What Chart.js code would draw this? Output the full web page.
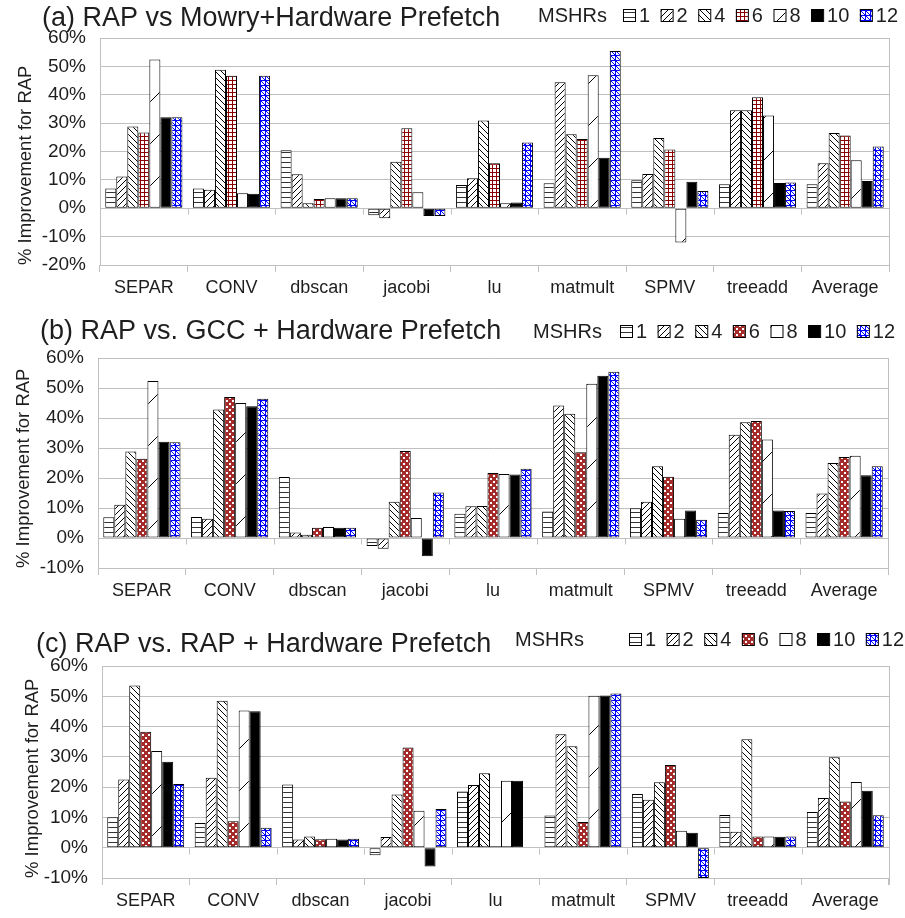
<!DOCTYPE html>
<html>
<head>
<meta charset="utf-8">
<script src="https://cdn.jsdelivr.net/npm/chart.js@4.4.1/dist/chart.umd.min.js"></script>
<style>
  body { margin: 0; background: #fff; }
  .box { position: relative; width: 905px; }
</style>
</head>
<body>
<div class="box" style="height:300px"><canvas id="chartA"></canvas></div>
<div class="box" style="height:310px"><canvas id="chartB"></canvas></div>
<div class="box" style="height:308px"><canvas id="chartC"></canvas></div>
<script>
const benchmarks = ['SEPAR', 'CONV', 'dbscan', 'jacobi', 'lu', 'matmult', 'SPMV', 'treeadd', 'Average'];
const mshrs = ['1', '2', '4', '6', '8', '10', '12'];

// (a) RAP vs Mowry + hardware prefetch, one array per MSHR count
const mowry1  = [7.0, 7.0, 20.4, -2.5, 8.2, 8.8, 9.9, 8.5, 8.5];
const mowry2  = [11.2, 6.5, 12.0, -3.5, 10.6, 44.4, 12.1, 34.5, 15.9];
const mowry4  = [28.8, 48.8, 1.8, 16.4, 30.9, 26.1, 24.8, 34.5, 26.5];
const mowry6  = [26.7, 46.7, 3.3, 28.2, 15.9, 24.4, 20.7, 39.1, 25.6];
const mowry8  = [52.4, 5.3, 3.5, 5.6, 1.8, 46.9, -12.1, 32.7, 16.9];
const mowry10 = [32.1, 5.1, 3.5, -2.7, 2.0, 17.8, 9.3, 8.9, 9.6];
const mowry12 = [32.1, 46.7, 3.5, -2.7, 23.2, 55.4, 6.1, 9.1, 21.8];

// (b) RAP vs GCC + hardware prefetch
const gcc1  = [6.9, 7.0, 20.3, -2.7, 8.1, 8.8, 9.9, 8.3, 8.3];
const gcc2  = [11.1, 6.4, 1.8, -3.6, 10.6, 44.2, 12.1, 34.4, 14.8];
const gcc4  = [28.8, 42.8, 1.1, 12.1, 10.7, 41.4, 23.9, 38.6, 25.0];
const gcc6  = [26.4, 47.0, 3.4, 29.0, 21.7, 28.6, 20.4, 39.0, 27.0];
const gcc8  = [52.3, 45.0, 3.7, 6.7, 21.3, 51.4, 6.4, 32.8, 27.4];
const gcc10 = [32.1, 43.9, 3.4, -6.1, 21.2, 54.1, 9.2, 9.2, 20.9];
const gcc12 = [31.9, 46.4, 3.4, 15.2, 23.1, 55.4, 6.1, 9.0, 23.9];

// (c) RAP vs RAP + hardware prefetch
const rapHw1  = [10.1, 8.2, 20.9, -2.5, 18.6, 10.6, 17.7, 10.8, 11.8];
const rapHw2  = [22.5, 23.1, 2.7, 3.5, 20.7, 37.5, 15.8, 5.3, 16.4];
const rapHw4  = [53.6, 48.5, 3.7, 17.6, 24.6, 33.5, 21.6, 35.8, 29.9];
const rapHw6  = [38.3, 8.7, 2.8, 33.1, 0.5, 8.5, 27.3, 3.7, 15.3];
const rapHw8  = [31.9, 45.3, 3.0, 12.2, 22.1, 50.2, 5.6, 3.7, 21.7];
const rapHw10 = [28.4, 45.1, 2.7, -6.2, 22.1, 50.3, 4.9, 3.6, 18.8];
const rapHw12 = [21.0, 6.6, 3.0, 12.8, -0.2, 50.9, -10.0, 3.7, 10.7];

const TEXT = '#1e1e1e';
const GRID = '#c0c0c0';
Chart.defaults.font.family = '"Liberation Sans", Arial, sans-serif';
Chart.defaults.color = TEXT;

// hatch fills, made on small tiles
function tile(w, h, draw) {
    const c = document.createElement('canvas');
    c.width = w; c.height = h;
    const g = c.getContext('2d');
    g.fillStyle = '#fff';
    g.fillRect(0, 0, w, h);
    draw(g);
    return g.createPattern(c, 'repeat');
}
const hLines = tile(5, 5, g => { g.fillStyle = '#333'; g.fillRect(0, 2, 5, 1); });
const slash = tile(6, 6, g => {
    g.strokeStyle = '#000'; g.lineWidth = 1;
    g.beginPath(); g.moveTo(-1, 7); g.lineTo(7, -1); g.stroke();
});
const backslash = tile(6, 6, g => {
    g.strokeStyle = '#000'; g.lineWidth = 1;
    g.beginPath(); g.moveTo(-1, -1); g.lineTo(7, 7); g.stroke();
});
const redGrid = tile(4, 4, g => {
    g.fillStyle = '#8b0000';
    g.fillRect(0, 0, 4, 1); g.fillRect(0, 0, 1, 4);
});
const redCross = tile(6, 6, g => {
    g.fillStyle = '#a52a2a'; g.fillRect(0, 0, 6, 6);
    g.fillStyle = '#fff';
    g.fillRect(1, 1, 2, 2); g.fillRect(4, 4, 2, 2);
});
const sparse = tile(42, 42, g => {
    g.strokeStyle = '#000'; g.lineWidth = 1;
    g.beginPath(); g.moveTo(-1, 43); g.lineTo(43, -1); g.stroke();
});
const blueGrid = tile(5, 5, g => {
    g.fillStyle = '#0000ff';
    g.fillRect(0, 0, 5, 1); g.fillRect(0, 0, 1, 5);
    g.strokeStyle = '#0000ff'; g.lineWidth = 1;
    g.beginPath(); g.moveTo(0, 0); g.lineTo(5, 5); g.stroke();
});

// title + MSHR key in the top row
const header = {
    id: 'header',
    afterDraw(chart, args, o) {
        const ctx = chart.ctx;
        ctx.save();
        ctx.fillStyle = TEXT;
        ctx.textBaseline = 'alphabetic';
        ctx.font = '27px "Liberation Sans", Arial, sans-serif';
        ctx.fillText(o.title, o.titleX, o.titleY);
        ctx.font = '20px "Liberation Sans", Arial, sans-serif';
        ctx.textBaseline = 'middle';
        ctx.fillText('MSHRs', o.nameX, o.keyY + 1);
        let x = o.keyX;
        chart.data.datasets.forEach(ds => {
            ctx.fillStyle = ds.backgroundColor;
            ctx.fillRect(x, o.keyY - 6, 12, 12);
            ctx.strokeStyle = '#000';
            ctx.lineWidth = 1;
            ctx.strokeRect(x + 0.5, o.keyY - 5.5, 12, 12);
            ctx.fillStyle = TEXT;
            ctx.fillText(ds.label, x + 16, o.keyY + 1);
            x += 16 + ctx.measureText(ds.label).width + 10.5;
        });
        ctx.restore();
    }
};

// right border and small ticks under the zero line
const frame = {
    id: 'frame',
    afterDatasetsDraw(chart) {
        const {ctx, chartArea: a, scales: {y}} = chart;
        ctx.save();
        ctx.strokeStyle = GRID;
        ctx.lineWidth = 1;
        ctx.beginPath();
        ctx.moveTo(Math.round(a.right) + 0.5, a.top);
        ctx.lineTo(Math.round(a.right) + 0.5, a.bottom + 7);
        const y0 = Math.round(y.getPixelForValue(0)) + 0.5;
        const step = a.width / benchmarks.length;
        for (let i = 1; i < benchmarks.length; i++) {
            const px = Math.round(a.left + i * step) + 0.5;
            ctx.moveTo(px, y0);
            ctx.lineTo(px, y0 + 6);
        }
        ctx.stroke();
        ctx.restore();
    }
};

function makeChart(id, series, fills, cfg) {
    return new Chart(document.getElementById(id), {
        type: 'bar',
        data: {
            labels: benchmarks,
            datasets: series.map((vals, i) => ({
                label: mshrs[i],
                data: vals,
                backgroundColor: fills[i],
                borderColor: '#000',
                borderWidth: 1,
                borderSkipped: false,
                categoryPercentage: 0.88,
                barPercentage: 1.0
            }))
        },
        options: {
            responsive: true,
            maintainAspectRatio: false,
            animation: false,
            layout: { padding: { top: cfg.top, right: 905 - cfg.right, left: 0, bottom: 0 } },
            plugins: {
                legend: { display: false },
                tooltip: { enabled: false },
                header: cfg.header
            },
            scales: {
                x: {
                    afterFit: s => { s.height = cfg.height - cfg.bottom; },
                    grid: { display: true, drawOnChartArea: false, tickLength: 7, color: GRID, offset: true },
                    border: { display: false },
                    ticks: { font: { size: 18 }, color: TEXT, padding: 5 }
                },
                y: {
                    min: cfg.min,
                    max: 60,
                    afterFit: s => { s.width = cfg.left; },
                    ticks: { stepSize: 10, font: { size: 19 }, color: TEXT, padding: 14,
                             callback: v => v + '%' },
                    grid: { color: GRID, drawTicks: false },
                    border: { color: GRID },
                    title: {
                        display: true,
                        text: '% Improvement for RAP',
                        align: 'start',
                        font: { size: 18.5 },
                        color: TEXT,
                        padding: { top: cfg.titlePad, bottom: 0 }
                    }
                }
            }
        },
        plugins: [header, frame]
    });
}

makeChart('chartA',
    [mowry1, mowry2, mowry4, mowry6, mowry8, mowry10, mowry12],
    [hLines, slash, backslash, redGrid, sparse, '#000', blueGrid],
    { top: 38, bottom: 265, height: 300, left: 100, right: 889, min: -20, titlePad: 15,
      header: { title: '(a) RAP vs Mowry+Hardware Prefetch', titleX: 42, titleY: 26, nameX: 538, keyX: 623, keyY: 15 } });

makeChart('chartB',
    [gcc1, gcc2, gcc4, gcc6, gcc8, gcc10, gcc12],
    [hLines, slash, backslash, redCross, sparse, '#000', blueGrid],
    { top: 58, bottom: 268, height: 310, left: 98, right: 888, min: -10, titlePad: 13,
      header: { title: '(b) RAP vs. GCC + Hardware Prefetch', titleX: 40, titleY: 39, nameX: 533, keyX: 620, keyY: 31 } });

makeChart('chartC',
    [rapHw1, rapHw2, rapHw4, rapHw6, rapHw8, rapHw10, rapHw12],
    [hLines, slash, backslash, redCross, sparse, '#000', blueGrid],
    { top: 56, bottom: 268, height: 308, left: 102, right: 889, min: -10, titlePad: 22,
      header: { title: '(c) RAP vs. RAP + Hardware Prefetch', titleX: 36, titleY: 42, nameX: 515, keyX: 629, keyY: 29 } });
</script>
</body>
</html>
